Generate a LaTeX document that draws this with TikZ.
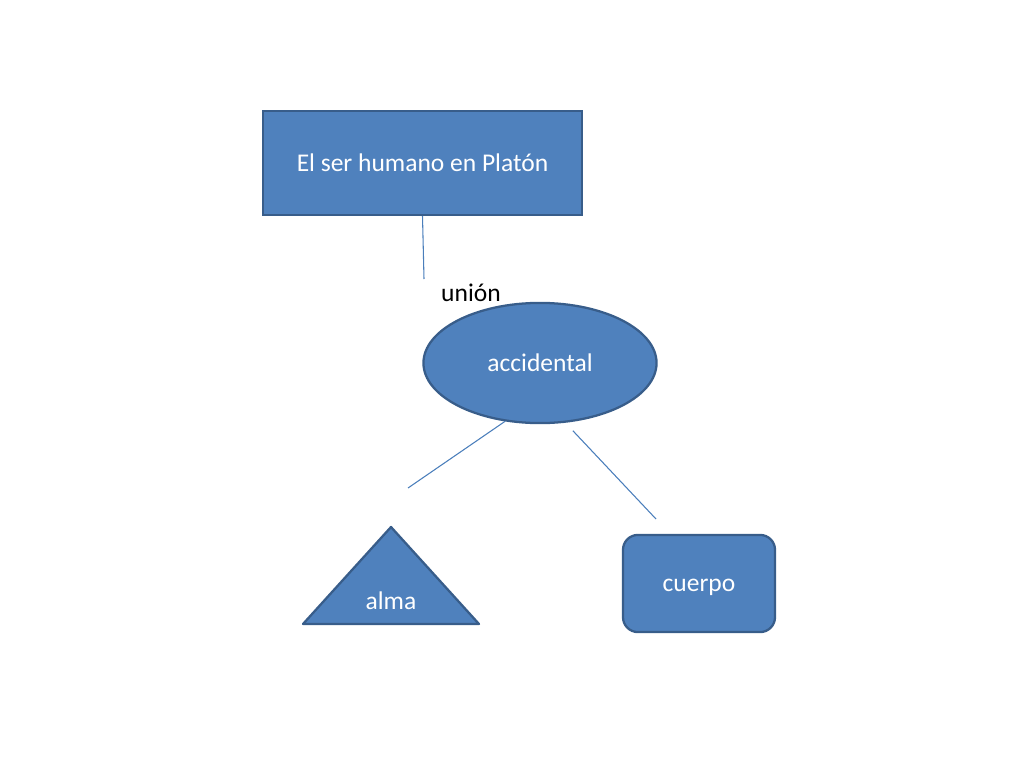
\documentclass[tikz,border=0pt]{standalone}
\usepackage{fontspec}
\setmainfont{Carlito}
\usetikzlibrary{shapes.geometric}
\definecolor{relleno}{HTML}{4F81BD}
\definecolor{borde}{HTML}{385D8A}
\definecolor{linea}{HTML}{4A7EBB}
\begin{document}
\begin{tikzpicture}[x=0.0248cm,y=-0.0248cm,
    forma/.style={fill=relleno,draw=borde,line width=1.6pt,text=white,inner sep=0pt,font=\fontsize{18}{22}\selectfont},
    caja/.style={forma,rectangle,minimum width=7.91cm,minimum height=2.58cm},
    elipse/.style={forma,ellipse,minimum width=5.78cm,minimum height=2.98cm},
    redondeado/.style={forma,rectangle,rounded corners=0.37cm,minimum width=3.77cm,minimum height=2.41cm},
    conector/.style={draw=linea,line width=0.75pt}]
    \useasboundingbox (0,0) rectangle (1024,768);
    % formas
    \node[caja] (titulo) at (422.5,163) {El ser humano en Platón};
    \node[elipse] (accidental) at (540,363) {accidental};
    \node[redondeado,text height=11.5pt,text depth=0pt] (cuerpo) at (699,583.5) {cuerpo};
    \draw[fill=relleno,draw=borde,line width=1.6pt,line join=round] (391,527)--(479,624)--(303,624)--cycle;
    \node[text=white,font=\fontsize{18}{22}\selectfont] (alma) at (391,601) {alma};
    \node[font=\fontsize{18}{22}\selectfont] (union) at (471,293) {unión};
    % conectores
    \coordinate (u1) at (424,279);
    \coordinate (a1) at (408,488);
    \coordinate (c1) at (656,519);
    \draw[conector] (titulo.south) -- (u1);
    \draw[conector] (accidental.239) -- (a1);
    \draw[conector,shorten <=7.7pt] (accidental.293) -- (c1);
\end{tikzpicture}
\end{document}
